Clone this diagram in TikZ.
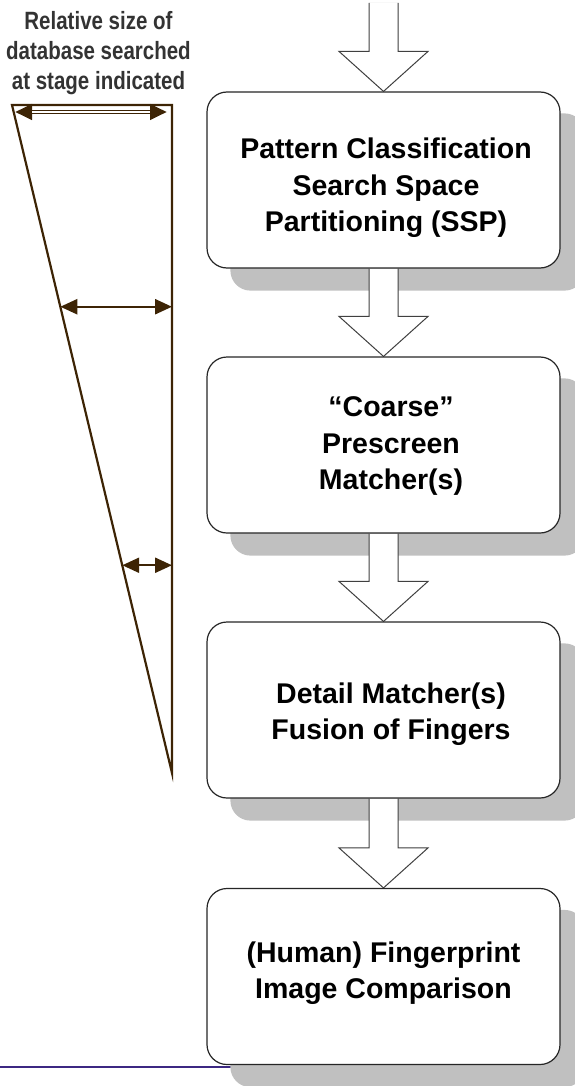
\documentclass[tikz,border=0pt]{standalone}
\usepackage{fontspec}
\setmainfont{Liberation Sans}
\newfontfamily\narrowsans[FakeStretch=0.82]{Liberation Sans}
\usetikzlibrary{calc,arrows.meta}
\pgfdeclarelayer{back}
\pgfdeclarelayer{mid}
\pgfsetlayers{back,mid,main}
\definecolor{edgebrown}{RGB}{61,36,5}
\definecolor{shadowgray}{RGB}{192,192,192}
\definecolor{rulepurple}{RGB}{60,40,130}
\definecolor{captiongray}{RGB}{51,51,51}
\definecolor{arrowedge}{RGB}{64,64,64}

% hollow block arrow from a tail point (#1) down to a tip point (#2)
\newcommand\blockarrow[3]{%
  \path[#3] let \p1=(#1), \p2=(#2) in
    (\x2-14.5pt,\y1) -- (\x2-14.5pt,\y2+40pt) -- (\x2-44.5pt,\y2+40pt) --
    (\x2,\y2) -- (\x2+44.5pt,\y2+40pt) -- (\x2+14.5pt,\y2+40pt) -- (\x2+14.5pt,\y1);}

\begin{document}
\begin{tikzpicture}[x=1pt,y=-1pt,
  stagebox/.style={rectangle, rounded corners=20pt, draw=black!85, line width=1.2pt,
    fill=white, minimum width=353pt, minimum height=176pt, inner sep=0pt},
  stagetext/.style={align=center, inner sep=0pt,
    font=\fontsize{28.5}{36.5}\selectfont\bfseries},
  caption/.style={align=center, inner sep=0pt, text=captiongray,
    font=\narrowsans\bfseries\fontsize{25}{30}\selectfont},
  boxshadow/.style={fill=shadowgray, rounded corners=20pt},
  arrowbody/.style={fill=white, draw=arrowedge, line width=1pt, line join=miter},
  arrowshadow/.style={fill=shadowgray, shift={(24pt,-22pt)}},
  wedge/.style={draw=edgebrown, line width=2.2pt, line join=miter},
  sizearrow/.style={edgebrown, line width=2.4pt,
    {Triangle[length=17pt,width=15pt]}-{Triangle[length=17pt,width=15pt]}}]
\useasboundingbox (0,0) rectangle (575,1086);

% processing stages
\node[stagebox] (b1) at (383.5,180) {};
\node[stagebox] (b2) at (383.5,445) {};
\node[stagebox] (b3) at (383.5,710) {};
\node[stagebox] (b4) at (383.5,976.5) {};

\node[stagetext] (t1) at (386,188) {Pattern Classification\\Search Space\\Partitioning (SSP)};
\node[stagetext] (t2) at (391,446.5) {“Coarse”\\Prescreen\\Matcher(s)};
\node[stagetext] (t3) at (391,714) {Detail Matcher(s)\\Fusion of Fingers};
\node[stagetext] (t4) at (383.5,973) {(Human) Fingerprint\\Image Comparison};

\coordinate (in0) at (384,3);
\coordinate (rule0) at (0,1067);

\begin{pgfonlayer}{back}
  \draw[rulepurple, line width=2.2pt] (rule0) -- (b4.south |- rule0);
  \foreach \b in {b1,b2,b3,b4}
    \fill[boxshadow] ($(\b.south west)+(24,22)$) rectangle ($(\b.north east)+(24,22)$);
  \blockarrow{in0}{b1.north}{arrowshadow}
  \blockarrow{b1.south}{b2.north}{arrowshadow}
  \blockarrow{b2.south}{b3.north}{arrowshadow}
  \blockarrow{b3.south}{b4.north}{arrowshadow}
\end{pgfonlayer}

\begin{pgfonlayer}{mid}
  \blockarrow{in0}{b1.north}{arrowbody}
  \blockarrow{b1.south}{b2.north}{arrowbody}
  \blockarrow{b2.south}{b3.north}{arrowbody}
  \blockarrow{b3.south}{b4.north}{arrowbody}
\end{pgfonlayer}

% shrinking search-space wedge
\node[caption] (cap) at (98.5,53.5) {Relative size of\\database searched\\at stage indicated};
\coordinate (tl) at (12,105);
\coordinate (tr) at (172,105);
\coordinate (bt) at (172,773);
\draw[wedge] (tl) -- (tr) -- (bt) -- cycle;

\coordinate (a1l) at (15,112);
\coordinate (a1r) at (167,112);
\coordinate (a2l) at ($(tl)!0.302!(bt)$);
\coordinate (a2r) at (tr |- a2l);
\coordinate (a3l) at ($(tl)!0.689!(bt)$);
\coordinate (a3r) at (tr |- a3l);

\draw[sizearrow, line width=4pt] (a1l) -- (a1r);
\draw[white, line width=1.6pt, shorten <=17pt, shorten >=17pt] (a1l) -- (a1r);
\draw[sizearrow] (a2l) -- (a2r);
\draw[sizearrow] (a3l) -- (a3r);
\end{tikzpicture}
\end{document}
